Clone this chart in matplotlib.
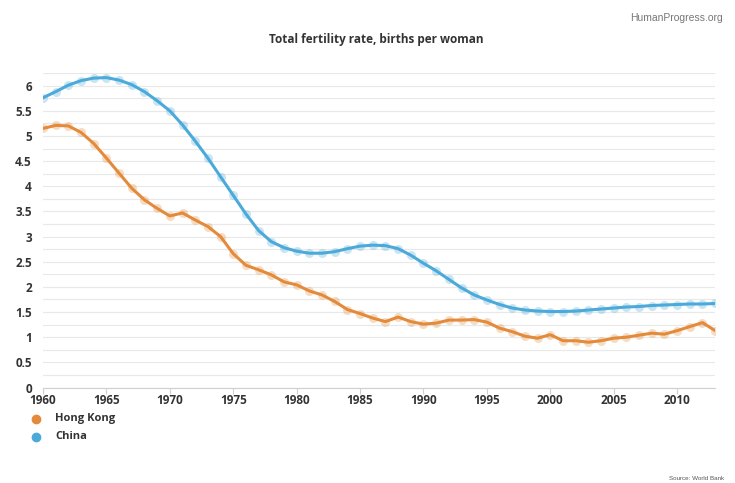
import numpy as np
import matplotlib
matplotlib.use('Agg')
import matplotlib.pyplot as plt
from matplotlib.ticker import MultipleLocator

# 数据: 总和生育率 (births per woman), 1960-2013
years = list(range(1960, 2014))

hong_kong = [5.15, 5.21, 5.2, 5.07, 4.85, 4.56, 4.26, 3.96, 3.73, 3.56,
             3.41, 3.47, 3.33, 3.2, 3.0, 2.66, 2.43, 2.34, 2.24, 2.1,
             2.04, 1.92, 1.84, 1.71, 1.55, 1.47, 1.38, 1.31, 1.4, 1.31,
             1.26, 1.28, 1.34, 1.34, 1.35, 1.3, 1.18, 1.11, 1.02, 0.98,
             1.05, 0.93, 0.93, 0.9, 0.93, 0.98, 1.0, 1.04, 1.08, 1.06,
             1.13, 1.21, 1.29, 1.13]

china = [5.76, 5.88, 6.01, 6.1, 6.15, 6.16, 6.11, 6.02, 5.88, 5.7,
         5.5, 5.22, 4.9, 4.56, 4.19, 3.82, 3.45, 3.12, 2.9, 2.78,
         2.71, 2.67, 2.67, 2.7, 2.76, 2.81, 2.83, 2.82, 2.76, 2.63,
         2.47, 2.32, 2.15, 1.98, 1.84, 1.74, 1.65, 1.58, 1.54, 1.52,
         1.51, 1.51, 1.52, 1.54, 1.56, 1.58, 1.6, 1.61, 1.63, 1.64,
         1.65, 1.66, 1.66, 1.67]

series_names = ['Hong Kong', 'China']
colors = ['#E38B3B', '#4BAAD9']

plt.rcParams['font.family'] = ['Open Sans', 'DejaVu Sans']

fig = plt.figure(figsize=(7.35, 4.83), dpi=100)
ax = fig.add_axes([0.0585, 0.1977, 0.9145, 0.651])

for name, vals, c in zip(series_names, [hong_kong, china], colors):
    ax.plot(years, vals, color=c, lw=2.2, solid_capstyle='round',
            solid_joinstyle='round', zorder=3)
    ax.plot(years, vals, 'o', color=c, ms=6.5, alpha=0.3, mec='none', zorder=2)

ax.set_xlim(1960, 2013)
ax.set_ylim(0, 6.25)
ax.yaxis.set_major_locator(MultipleLocator(0.5))
ax.yaxis.set_minor_locator(MultipleLocator(0.25))
ax.xaxis.set_major_locator(MultipleLocator(5))
ax.yaxis.set_major_formatter(plt.FuncFormatter(lambda v, p: '%g' % v))

ax.grid(axis='y', which='both', color='#e9e9e9', lw=0.9, zorder=0)
for s in ['top', 'right', 'left']:
    ax.spines[s].set_visible(False)
ax.spines['bottom'].set_color('#d0d0d0')
ax.spines['bottom'].set_zorder(1)

ax.tick_params(axis='y', which='both', length=0, pad=8, labelsize=8.5, labelcolor='#333333')
ax.tick_params(axis='x', length=4, color='#d0d0d0', pad=1, labelsize=8.5, labelcolor='#333333')
for lbl in ax.get_xticklabels() + ax.get_yticklabels():
    lbl.set_fontweight('bold')

fig.text(0.512, 0.918, 'Total fertility rate, births per woman', ha='center', va='center',
         fontsize=8.5, fontweight='bold', color='#333333')
fig.text(0.983, 0.962, 'HumanProgress.org', ha='right', va='center',
         fontsize=7.5, color='#777777', family='Liberation Sans')
fig.text(0.985, 0.01, 'Source: World Bank', ha='right', va='center',
         fontsize=4.5, color='#555555', family='Liberation Sans')

# 图例
for i, (name, c) in enumerate(zip(series_names, colors)):
    y = 0.133 - i * 0.037
    fig.text(0.075, y, name, ha='left', va='center', fontsize=8,
             fontweight='bold', color='#333333')
    fig.lines.append(plt.Line2D([0.049], [y], marker='o', ms=6, color=c,
                                transform=fig.transFigure, figure=fig))

fig.savefig('out.png', dpi=100)
